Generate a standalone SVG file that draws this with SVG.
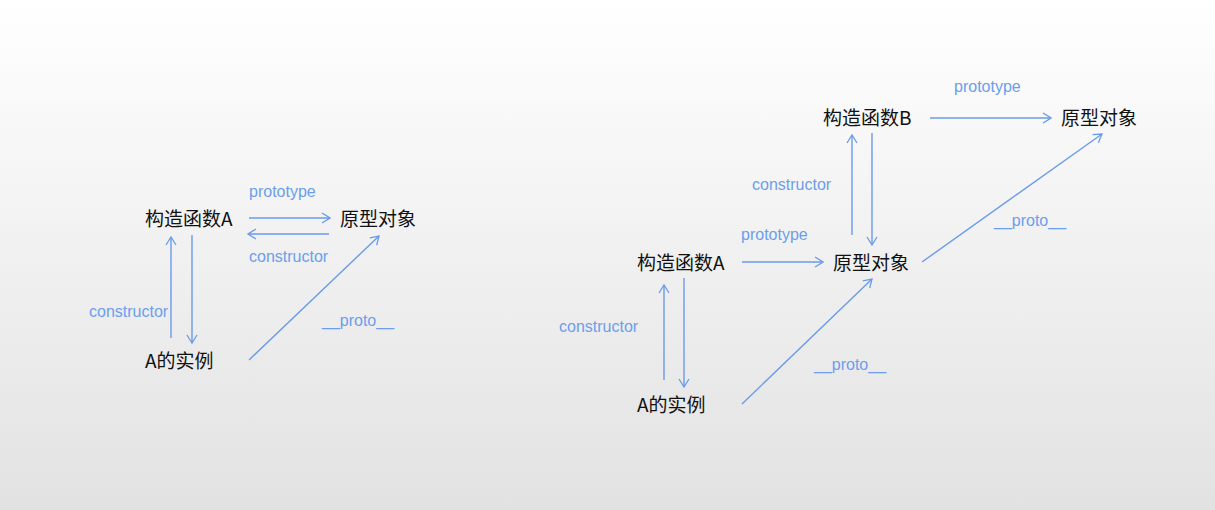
<svg xmlns="http://www.w3.org/2000/svg" width="1215" height="510" viewBox="0 0 1215 510">
<defs>
<linearGradient id="bg" x1="0" y1="0" x2="0" y2="1">
<stop offset="0" stop-color="#ffffff"/>
<stop offset="0.1" stop-color="#fcfcfc"/>
<stop offset="1" stop-color="#e2e2e2"/>
</linearGradient>
<marker id="ah" viewBox="0 0 10 12" refX="9" refY="6" markerWidth="10" markerHeight="12" markerUnits="userSpaceOnUse" orient="auto">
<path d="M1,1 L9,6 L1,11" fill="none" stroke="#6a9be8" stroke-width="1.3"/>
</marker>
<style>
.n{font-family:"Noto Sans CJK SC","Liberation Sans",sans-serif;font-size:19px;fill:#111;}
.l{font-family:"Liberation Sans",Arial,sans-serif;font-size:16px;fill:#6d9eeb;}
.c{stroke:#6a9be8;stroke-width:1.4;fill:none;marker-end:url(#ah);}
</style>
</defs>
<rect x="0" y="0" width="1215" height="510" fill="url(#bg)"/>

<g id="left-ctorA"><text class="n" x="145" y="226">构造函数A</text></g>
<g id="left-proto"><text class="n" x="340" y="226">原型对象</text></g>
<g id="left-inst"><text class="n" x="145" y="368">A的实例</text></g>

<g id="right-ctorB"><text class="n" x="823" y="125">构造函数B</text></g>
<g id="right-protoB"><text class="n" x="1061" y="125">原型对象</text></g>
<g id="right-ctorA"><text class="n" x="637" y="270">构造函数A</text></g>
<g id="right-protoA"><text class="n" x="833" y="270">原型对象</text></g>
<g id="right-inst"><text class="n" x="637" y="412">A的实例</text></g>

<g id="connectors">
<line class="c" x1="249" y1="218" x2="330" y2="218"/>
<line class="c" x1="329" y1="234" x2="248" y2="234"/>
<line class="c" x1="171" y1="338" x2="171" y2="237"/>
<line class="c" x1="192" y1="235" x2="192" y2="343"/>
<line class="c" x1="249" y1="360" x2="379" y2="236"/>

<line class="c" x1="930" y1="118" x2="1051" y2="118"/>
<line class="c" x1="852" y1="235" x2="852" y2="135"/>
<line class="c" x1="872" y1="133" x2="872" y2="245"/>
<line class="c" x1="922" y1="262" x2="1102" y2="134"/>
<line class="c" x1="742" y1="262" x2="823" y2="262"/>
<line class="c" x1="664" y1="380" x2="664" y2="285"/>
<line class="c" x1="684" y1="278" x2="684" y2="387"/>
<line class="c" x1="742" y1="404" x2="872" y2="279"/>

<text class="l" x="249" y="197">prototype</text>
<text class="l" x="249" y="262">constructor</text>
<text class="l" x="89" y="317">constructor</text>
<text class="l" x="322" y="326">__proto__</text>

<text class="l" x="954" y="92">prototype</text>
<text class="l" x="752" y="190">constructor</text>
<text class="l" x="994" y="226">__proto__</text>
<text class="l" x="741" y="240">prototype</text>
<text class="l" x="559" y="332">constructor</text>
<text class="l" x="814" y="370">__proto__</text>
</g>
</svg>
